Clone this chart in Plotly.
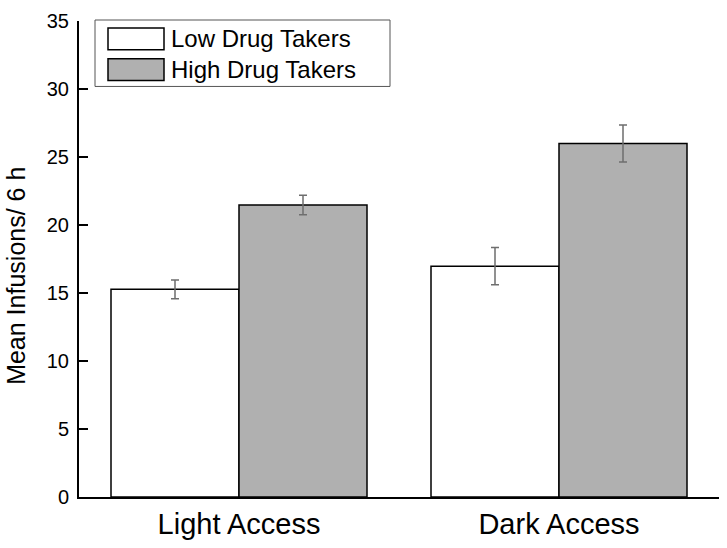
import plotly.graph_objects as go

categories = ["Light Access", "Dark Access"]
series_names = ["Low Drug Takers", "High Drug Takers"]
low_mean = [15.27, 16.97]
low_sem = [0.69, 1.37]
high_mean = [21.47, 25.99]
high_sem = [0.72, 1.36]
y_ticks = [0, 5, 10, 15, 20, 25, 30, 35]

FONT = "Liberation Sans, Arial, sans-serif"
W, H = 727, 548
L, R, T, B = 79, 8, 21, 47  # plot area in px
PW, PH = W - L - R, H - T - B


def px_x(x):
    return (x - L) / PW


def px_y(y):
    return (H - B - y) / PH


fig = go.Figure()
fig.add_trace(go.Bar(
    x=categories, y=low_mean, name=series_names[0],
    marker=dict(color="white", line=dict(color="black", width=1.5)),
    error_y=dict(type="data", array=low_sem, color="#6e6e6e", thickness=1.5, width=4),
))
fig.add_trace(go.Bar(
    x=categories, y=high_mean, name=series_names[1],
    marker=dict(color="#b0b0b0", line=dict(color="black", width=1.5)),
    error_y=dict(type="data", array=high_sem, color="#6e6e6e", thickness=1.5, width=4),
))

# hand-drawn legend (big swatches like the original)
shapes = [dict(type="rect", xref="paper", yref="paper",
               x0=px_x(95), x1=px_x(390), y0=px_y(87), y1=px_y(20),
               line=dict(color="#555555", width=1), fillcolor="white", layer="above")]
annotations = []
swatch_fill = ["white", "#b0b0b0"]
rows = [(28, 50), (59, 81)]
for name, fill, (top, bot) in zip(series_names, swatch_fill, rows):
    shapes.append(dict(type="rect", xref="paper", yref="paper",
                       x0=px_x(108), x1=px_x(164), y0=px_y(bot), y1=px_y(top),
                       line=dict(color="black", width=1.5), fillcolor=fill, layer="above"))
    annotations.append(dict(text=name, xref="paper", yref="paper",
                            x=px_x(169), y=px_y((top + bot) / 2), xanchor="left", yanchor="middle",
                            showarrow=False, font=dict(size=24, color="black", family=FONT)))

annotations.append(dict(text="Mean Infusions/ 6 h", xref="paper", yref="paper",
                        x=px_x(16), y=px_y(278), textangle=-90, showarrow=False,
                        xanchor="center", yanchor="middle",
                        font=dict(size=25, color="black", family=FONT)))

fig.update_layout(
    width=W, height=H,
    margin=dict(l=L, r=R, t=T, b=B, pad=0),
    paper_bgcolor="white", plot_bgcolor="white",
    font=dict(family=FONT, color="black"),
    barmode="group", bargap=0.2, bargroupgap=0,
    showlegend=False,
    shapes=shapes, annotations=annotations,
    xaxis=dict(range=[-0.5, 1.5], showline=True, linecolor="black", linewidth=2,
               ticks="", showgrid=False, zeroline=False,
               tickfont=dict(size=29, family=FONT, color="black")),
    yaxis=dict(range=[0, 35], tickvals=y_ticks, showline=True, linecolor="black", linewidth=2,
               ticks="inside", ticklen=9, tickwidth=1.5, tickcolor="black",
               ticklabelstandoff=4, showgrid=False, zeroline=False,
               tickfont=dict(size=20, family=FONT, color="black")),
)

fig.write_html("out.html", config={"displayModeBar": False},
               post_script="document.body.style.margin='0';")
